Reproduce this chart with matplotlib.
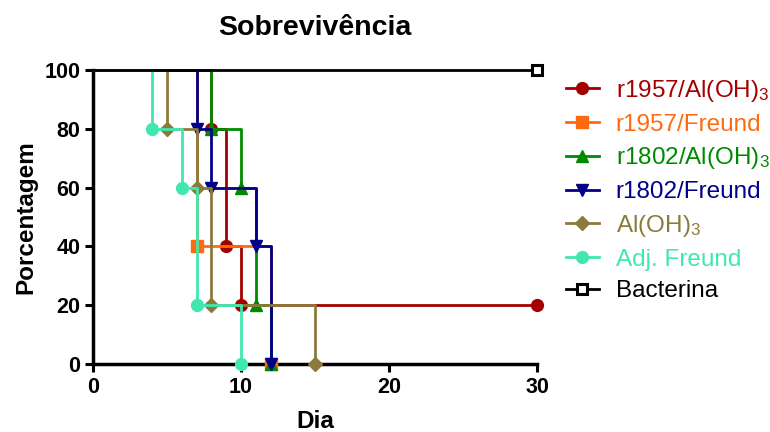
import matplotlib
matplotlib.use("Agg")
import matplotlib.pyplot as plt
from matplotlib.lines import Line2D

plt.rcParams['font.family'] = ['Liberation Sans', 'DejaVu Sans']
plt.rcParams['mathtext.fontset'] = 'custom'
plt.rcParams['mathtext.rm'] = 'Liberation Sans'
plt.rcParams['mathtext.it'] = 'Liberation Sans'

# curvas de sobrevivencia (dia, % vivos)
r1957_al_t = [0, 8, 9, 10, 30]
r1957_al_s = [100, 80, 40, 20, 20]
r1957_fr_t = [0, 7, 12]
r1957_fr_s = [100, 40, 0]
r1802_al_t = [0, 8, 10, 11, 12]
r1802_al_s = [100, 80, 60, 20, 0]
r1802_fr_t = [0, 7, 8, 11, 12]
r1802_fr_s = [100, 80, 60, 40, 0]
aloh_t = [0, 5, 7, 8, 15]
aloh_s = [100, 80, 60, 20, 0]
adj_t = [0, 4, 6, 7, 10]
adj_s = [100, 80, 60, 20, 0]
bact_t = [0, 30]
bact_s = [100, 100]

series = [
    (r'r1957/Al(OH)$_3$', r1957_al_t, r1957_al_s, '#A50000', 'o', True),
    ('r1957/Freund', r1957_fr_t, r1957_fr_s, '#FF6A10', 's', True),
    (r'r1802/Al(OH)$_3$', r1802_al_t, r1802_al_s, '#008A00', '^', True),
    ('r1802/Freund', r1802_fr_t, r1802_fr_s, '#000088', 'v', True),
    (r'Al(OH)$_3$', aloh_t, aloh_s, '#8C7A3C', 'D', True),
    ('Adj. Freund', adj_t, adj_s, '#40E8B0', 'o', True),
    ('Bacterina', bact_t, bact_s, '#000000', 's', False),
]

fig = plt.figure(figsize=(7.7, 4.32), dpi=100)
ax = fig.add_axes([0.1208, 0.1574, 0.5766, 0.6806])

handles = []
for i, (lab, t, s, c, m, filled) in enumerate(series):
    ax.step(t, s, where='post', color=c, lw=2.0, zorder=2 + i, clip_on=False)
    ms = 7 if m == 'D' else 8.5
    if filled:
        ax.plot(t[1:], s[1:], ls='none', marker=m, ms=ms, color=c,
                zorder=2 + i, clip_on=False)
        h = Line2D([], [], color=c, lw=2.0, marker=m, ms=ms)
    else:
        ax.plot(t[-1:], s[-1:], ls='none', marker=m, ms=7.5, mfc='white',
                mec=c, mew=2.2, zorder=2 + i, clip_on=False)
        h = Line2D([], [], color=c, lw=2.0, marker=m, ms=7.5, mfc='white', mew=2.2)
    handles.append(h)

ax.set_xlim(0, 30)
ax.set_ylim(0, 100)
ax.set_xticks([0, 10, 20, 30])
ax.set_yticks([0, 20, 40, 60, 80, 100])
for sp in ['top', 'right']:
    ax.spines[sp].set_visible(False)
for sp in ['left', 'bottom']:
    ax.spines[sp].set_linewidth(2.5)
ax.tick_params(width=2.2, length=6, labelsize=15.5, pad=3)
for lbl in ax.get_xticklabels() + ax.get_yticklabels():
    lbl.set_fontweight('bold')

ax.set_title('Sobrevivência', fontsize=20.5, fontweight='bold', pad=25)
ax.set_xlabel('Dia', fontsize=17.5, fontweight='bold', labelpad=9)
ax.set_ylabel('Porcentagem', fontsize=17.5, fontweight='bold', labelpad=5)

leg = fig.legend(handles, [s[0] for s in series], loc='upper left',
                 bbox_to_anchor=(566 / 770, 1 - 78 / 432), frameon=False,
                 fontsize=17.5, handlelength=1.35, labelspacing=0.4,
                 handletextpad=0.7, borderpad=0, borderaxespad=0)
for txt, s in zip(leg.get_texts(), series):
    txt.set_color(s[3])

fig.savefig('out.png', dpi=100)
